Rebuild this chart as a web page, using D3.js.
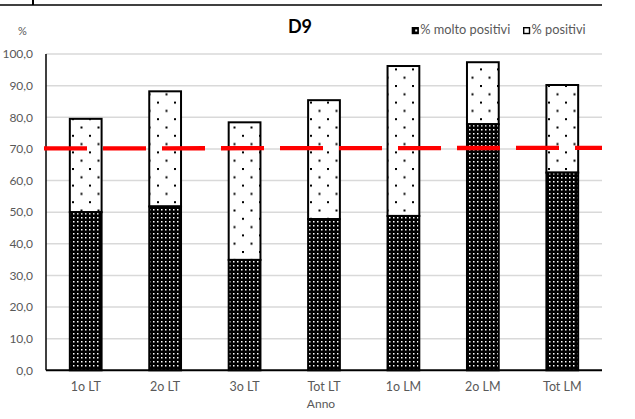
<!DOCTYPE html>
<html><head><meta charset="utf-8">
<script src="https://cdn.jsdelivr.net/npm/d3@7"></script>
<style>body{margin:0;background:#fff}svg{display:block}</style>
</head><body>
<script>
const categories = ["1o LT","2o LT","3o LT","Tot LT","1o LM","2o LM","Tot LM"];
const moltoPositivi = [50.0, 51.8, 34.9, 47.8, 48.8, 77.8, 62.5];
const positivi = [29.5, 36.4, 43.5, 37.6, 47.4, 19.6, 27.7];
const yTicks = [0,10,20,30,40,50,60,70,80,90,100];
const threshold = 70;
const seriesNames = ["% molto positivi", "% positivi"];

const W = 635, H = 419;
const svg = d3.select("body").append("svg").attr("width", W).attr("height", H);
const font = "Lato, 'Open Sans', sans-serif";

const defs = svg.append("defs");
const pd = defs.append("pattern").attr("id","dark").attr("patternUnits","userSpaceOnUse")
  .attr("width",4).attr("height",4);
pd.append("rect").attr("width",4).attr("height",4).attr("fill","#000");
pd.append("rect").attr("x",1).attr("y",1).attr("width",1.5).attr("height",1.5).attr("fill","#fff");
const pl = defs.append("pattern").attr("id","light").attr("patternUnits","userSpaceOnUse")
  .attr("width",17).attr("height",16.6).attr("x",4).attr("y",2);
pl.append("rect").attr("width",17).attr("height",16.6).attr("fill","#fff");
pl.append("rect").attr("x",0).attr("y",0).attr("width",2).attr("height",2).attr("fill","#000");
pl.append("rect").attr("x",8.5).attr("y",8.3).attr("width",2).attr("height",2).attr("fill","#000");

const m = {left:46, right:602, top:54, bottom:370.3};
const x = d3.scaleBand().domain(categories).range([m.left, m.right]).paddingInner(0.6).paddingOuter(0.3);
const y = d3.scaleLinear().domain([0,100]).range([m.bottom, m.top]);

// top decoration line
svg.append("line").attr("x1",0).attr("x2",602).attr("y1",5).attr("y2",5).attr("stroke","#000").attr("stroke-width",1.5);
svg.append("rect").attr("x",32).attr("y",0).attr("width",2).attr("height",5).attr("fill","#000");

// grid
svg.append("g").selectAll("line").data(yTicks.filter(d=>d>0)).join("line")
  .attr("x1",m.left).attr("x2",m.right).attr("y1",d=>y(d)).attr("y2",d=>y(d))
  .attr("stroke","#d9d9d9").attr("stroke-width",1.5);

// y axis labels
const yAxis = d3.axisLeft(y).tickValues(yTicks).tickSize(0).tickPadding(13)
  .tickFormat(d=>d3.format(".1f")(d).replace(".",","));
const ya = svg.append("g").attr("transform",`translate(${m.left},0)`).call(yAxis);
ya.select(".domain").remove();
ya.selectAll("text").attr("font-family",font).attr("font-size",12).attr("fill","#595959");

// bars
const g = svg.append("g");
categories.forEach((c,i)=>{
  const a = moltoPositivi[i], b = positivi[i];
  g.append("rect").attr("x",x(c)).attr("width",x.bandwidth())
    .attr("y",y(a+b)).attr("height",y(a)-y(a+b))
    .attr("fill","url(#light)").attr("stroke","#000").attr("stroke-width",2);
  g.append("rect").attr("x",x(c)).attr("width",x.bandwidth())
    .attr("y",y(a)).attr("height",y(0)-y(a))
    .attr("fill","url(#dark)").attr("stroke","#000").attr("stroke-width",2);
});

// axes lines
svg.append("line").attr("x1",m.left).attr("x2",m.left).attr("y1",y(100)).attr("y2",y(0)).attr("stroke","#000").attr("stroke-width",1.5);
svg.append("line").attr("x1",m.left).attr("x2",m.right).attr("y1",y(0)).attr("y2",y(0)).attr("stroke","#000").attr("stroke-width",2);

// threshold line
svg.append("line").attr("x1",44).attr("x2",m.right).attr("y1",y(threshold)-0.5).attr("y2",y(threshold)-1)
  .attr("stroke","#ff0000").attr("stroke-width",4.3).attr("stroke-dasharray","43,16");

// x labels
const xAxis = d3.axisBottom(x).tickSize(0).tickPadding(12);
const xa = svg.append("g").attr("transform",`translate(0,${m.bottom})`).call(xAxis);
xa.select(".domain").remove();
xa.selectAll("text").attr("font-family",font).attr("font-size",12.5).attr("fill","#595959");

svg.append("text").attr("x",321).attr("y",408).attr("text-anchor","middle")
  .attr("font-family",font).attr("font-size",12).attr("fill","#595959").text("Anno");
svg.append("text").attr("x",18).attr("y",35)
  .attr("font-family",font).attr("font-size",11).attr("fill","#595959").text("%");

// title
svg.append("text").attr("x",300).attr("y",33).attr("text-anchor","middle")
  .attr("font-family",font).attr("font-weight","bold").attr("font-size",18).attr("fill","#000").text("D9");

// legend
const legX = [411.7, 523];
seriesNames.forEach((n,i)=>{
  svg.append("rect").attr("x",legX[i]+0.7).attr("y",27.7).attr("width",5.8).attr("height",5.8)
    .attr("fill", i===0 ? "#000" : "#fff").attr("stroke","#000").attr("stroke-width",1.4);
  if(i===0) svg.append("rect").attr("x",legX[i]+3.5).attr("y",29.5).attr("width",2).attr("height",2).attr("fill","#fff");
  svg.append("text").attr("x",legX[i]+8.5).attr("y",33.5)
    .attr("font-family",font).attr("font-size",12.8).attr("fill","#595959").text(n);
});
</script>
</body></html>
